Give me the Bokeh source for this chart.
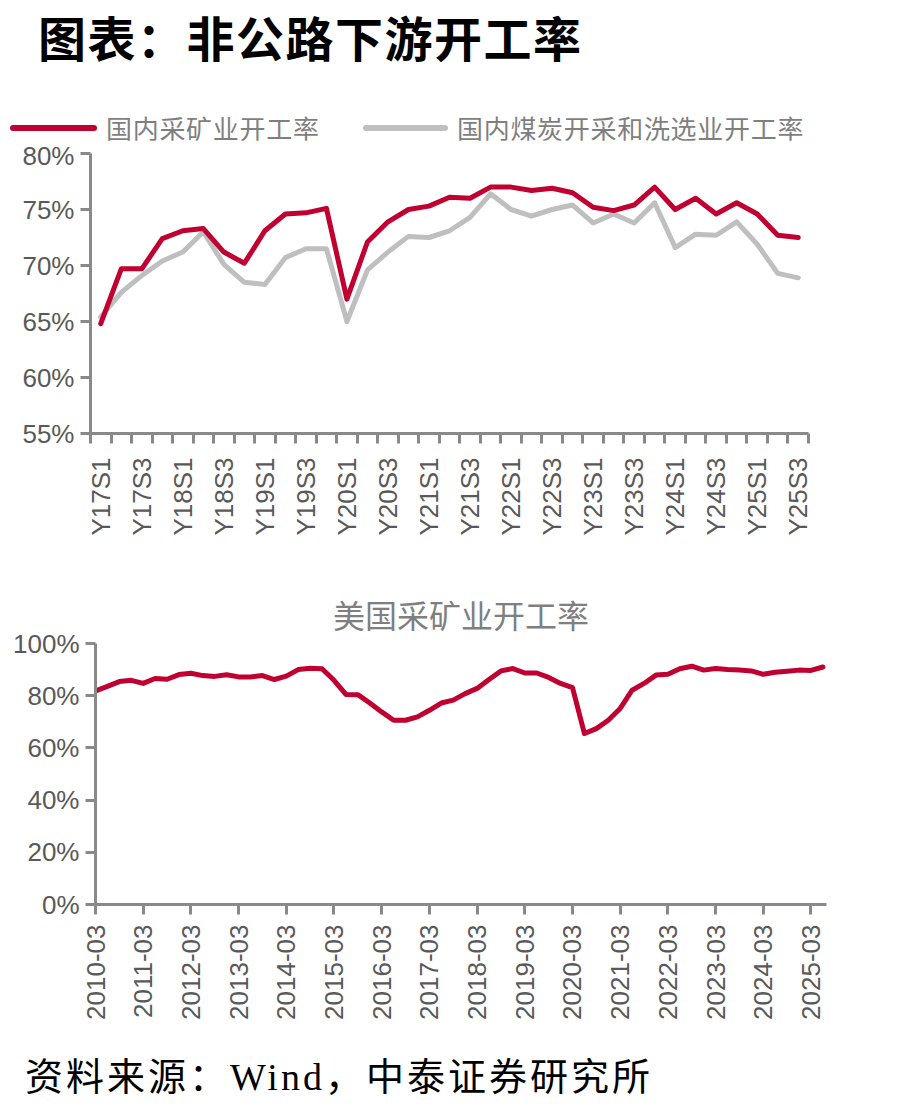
from math import pi

from bokeh.plotting import figure
from bokeh.models import FixedTicker, Div, Range1d
from bokeh.layouts import column
from bokeh.embed import file_html
from bokeh.resources import INLINE

# ---------------- data ----------------
# Domestic operating rates, quarterly Y17S1 .. Y25S3
cn_quarters = [f"Y{y}S{s}" for y in range(17, 26) for s in range(1, 5)][:35]
cn_mining = [64.8, 69.7, 69.7, 72.4, 73.1, 73.3, 71.2, 70.2, 73.1, 74.6,
             74.7, 75.1, 67.0, 72.1, 73.9, 75.0, 75.3, 76.1, 76.0, 77.0,
             77.0, 76.7, 76.9, 76.5, 75.2, 74.9, 75.4, 77.0, 75.0, 76.0,
             74.6, 75.6, 74.6, 72.7, 72.5]
cn_coal = [65.4, 67.6, 69.1, 70.4, 71.2, 73.0, 70.1, 68.5, 68.3, 70.7,
           71.5, 71.5, 65.0, 69.6, 71.2, 72.6, 72.5, 73.1, 74.3, 76.4,
           75.0, 74.4, 75.0, 75.4, 73.8, 74.6, 73.8, 75.6, 71.6, 72.8,
           72.7, 73.9, 71.9, 69.3, 68.9]
cn_series_names = ["国内采矿业开工率", "国内煤炭开采和洗选业开工率"]
cn_label_idx = list(range(0, 35, 2))
cn_y_ticks = [55, 60, 65, 70, 75, 80]

# US mining operating rate, quarterly 2010-03 .. 2025-06
us_quarters = [f"{y}-{m:02d}" for y in range(2010, 2026) for m in (3, 6, 9, 12)][:62]
us_mining = [81.8, 83.6, 85.4, 85.9, 84.7, 86.6, 86.3, 88.1, 88.6, 87.7,
             87.4, 88.0, 87.2, 87.2, 87.7, 86.2, 87.5, 90.0, 90.5, 90.3,
             85.9, 80.5, 80.4, 77.2, 73.8, 70.6, 70.6, 71.9, 74.4, 77.2,
             78.3, 80.8, 82.8, 86.2, 89.5, 90.4, 88.7, 88.7, 87.0, 84.7,
             83.1, 65.5, 67.4, 70.6, 75.1, 82.1, 84.7, 87.9, 88.2, 90.3,
             91.3, 89.8, 90.4, 90.0, 89.8, 89.5, 88.2, 89.0, 89.4, 89.8,
             89.7, 91.0]
us_label_idx = list(range(0, 62, 4))
us_y_ticks = [0, 20, 40, 60, 80, 100]

# ---------------- styling ----------------
RED = "#C00030"
GREY = "#BFBFBF"
AXIS = "#898989"
TICK_TXT = "#595959"
CAPTION = "#7F7F7F"
SANS = "Liberation Sans"
CJK = "Noto Sans CJK SC"
W = 911


def style_axes(p):
    for ax in (p.xaxis[0], p.yaxis[0]):
        ax.axis_line_color = AXIS
        ax.axis_line_width = 3
        ax.major_tick_line_color = AXIS
        ax.major_tick_line_width = 3
        ax.major_tick_in = 0
        ax.major_tick_out = 10
        ax.minor_tick_line_color = None
        ax.major_label_text_font = SANS
        ax.major_label_text_font_size = "26px"
        ax.major_label_text_color = TICK_TXT
    p.xgrid.grid_line_color = None
    p.ygrid.grid_line_color = None


# ---------------- heading and legend ----------------
heading = Div(
    text=('<div style="position:absolute;left:38px;top:6px;'
          f"font-family:'{CJK}';font-size:48px;font-weight:bold;color:#000;"
          'letter-spacing:1.5px;line-height:60px;white-space:nowrap;">'
          "图表：非公路下游开工率</div>"),
    width=W, height=75, margin=(0, 0, 0, 0))


def legend_entry(left, swatch_w, color, label):
    return (f'<div style="position:absolute;left:{left}px;top:50px;width:{swatch_w}px;'
            f'height:6px;border-radius:3px;background:{color};"></div>'
            f'<div style="position:absolute;left:{left + swatch_w + 9}px;top:35px;'
            f"font-family:'{CJK}';font-size:26px;line-height:36px;color:{CAPTION};"
            f'letter-spacing:0.7px;white-space:nowrap;">{label}</div>')


legend_div = Div(
    text=legend_entry(10, 87, RED, cn_series_names[0])
    + legend_entry(363, 85, GREY, cn_series_names[1]),
    width=W, height=65, margin=(0, 0, 0, 0))

# ---------------- domestic chart ----------------
p1 = figure(width=W, height=420, x_range=Range1d(-0.5, 34.5), y_range=Range1d(55, 80),
            output_backend="svg", toolbar_location=None, frame_align=False,
            min_border_left=90, min_border_right=103, min_border_top=13,
            min_border_bottom=127, outline_line_color=None,
            background_fill_color="white", border_fill_color="white")
xs1 = list(range(len(cn_quarters)))
p1.line(xs1, cn_coal, line_color=GREY, line_width=5,
        line_join="round", line_cap="round")
p1.line(xs1, cn_mining, line_color=RED, line_width=5,
        line_join="round", line_cap="round")
style_axes(p1)

xa = p1.xaxis[0]
xa.ticker = FixedTicker(ticks=cn_label_idx,
                        minor_ticks=[i - 0.5 for i in range(len(cn_quarters) + 1)])
xa.major_tick_out = 0
xa.minor_tick_out = 10
xa.minor_tick_in = 0
xa.minor_tick_line_color = AXIS
xa.minor_tick_line_width = 3
xa.major_label_overrides = {i: cn_quarters[i] for i in cn_label_idx}
xa.major_label_orientation = pi / 2
xa.major_label_standoff = 14

ya = p1.yaxis[0]
ya.ticker = FixedTicker(ticks=cn_y_ticks)
ya.major_label_overrides = {v: f"{v}%" for v in cn_y_ticks}
ya.major_label_standoff = 6

# ---------------- US chart ----------------
p2 = figure(width=W, height=485, x_range=Range1d(0, 61.3), y_range=Range1d(0, 100),
            output_backend="svg", toolbar_location=None, frame_align=False,
            min_border_left=95, min_border_right=85, min_border_top=83,
            min_border_bottom=141, outline_line_color=None,
            background_fill_color="white", border_fill_color="white")
p2.line(list(range(len(us_quarters))), us_mining, line_color=RED, line_width=5,
        line_join="round", line_cap="round")
style_axes(p2)
p2.title.text = "美国采矿业开工率"
p2.title.align = "center"
p2.title.text_font = CJK
p2.title.text_font_style = "normal"
p2.title.text_font_size = "32px"
p2.title.text_color = CAPTION
p2.title.standoff = 13

xb = p2.xaxis[0]
xb.ticker = FixedTicker(ticks=us_label_idx)
xb.major_label_overrides = {i: us_quarters[i] for i in us_label_idx}
xb.major_label_orientation = pi / 2
xb.major_label_standoff = 10

yb = p2.yaxis[0]
yb.ticker = FixedTicker(ticks=us_y_ticks)
yb.major_label_overrides = {v: f"{v}%" for v in us_y_ticks}
yb.major_label_standoff = 6

# ---------------- source note ----------------
source = Div(
    text=('<div style="position:absolute;left:25px;top:9px;'
          f"font-family:'Liberation Serif','{CJK}';font-size:38px;color:#000;"
          'letter-spacing:3px;line-height:46px;white-space:nowrap;">'
          "资料来源：Wind，中泰证券研究所</div>"),
    width=W, height=71, margin=(0, 0, 0, 0))

layout = column(heading, legend_div, p1, p2, source, spacing=0)

with open("out.html", "w") as f:
    f.write(file_html(layout, INLINE))
